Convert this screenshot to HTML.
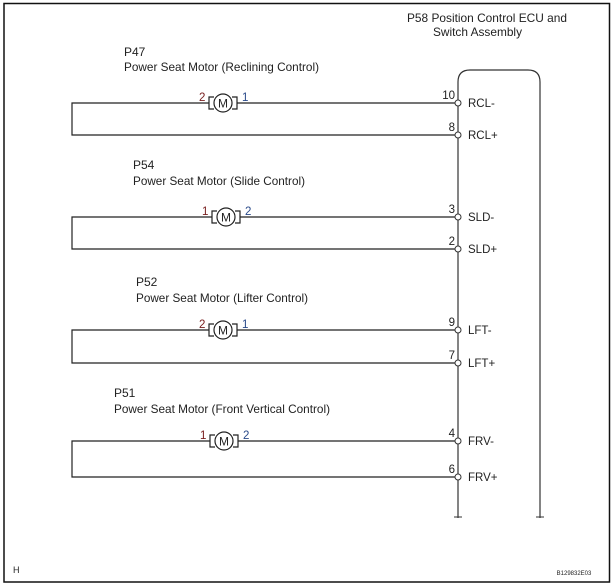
<!DOCTYPE html>
<html><head><meta charset="utf-8"><style>
html,body{margin:0;padding:0;background:#fff}
svg{display:block}
text{font-family:"Liberation Sans",Arial,sans-serif;fill:#222}
</style></head><body>
<svg width="613" height="585" viewBox="0 0 613 585" xmlns="http://www.w3.org/2000/svg">
<rect x="4" y="3.5" width="605.5" height="578.5" fill="none" stroke="#111" stroke-width="1.5"/>
<text x="407" y="22" font-size="12" textLength="160" lengthAdjust="spacingAndGlyphs">P58 Position Control ECU and</text>
<text x="433" y="36" font-size="12" textLength="89" lengthAdjust="spacingAndGlyphs">Switch Assembly</text>
<path d="M458 518 V82 Q458 70 470 70 H528 Q540 70 540 82 V518" fill="none" stroke="#333" stroke-width="1.2"/>
<line x1="454" y1="517" x2="462" y2="517" stroke="#333"/>
<line x1="536" y1="517" x2="544" y2="517" stroke="#333"/>
<g stroke="#222" stroke-width="1.2" fill="none">
<path d="M455 103 H72 V135 H455"/>
<path d="M455 217 H72 V249 H455"/>
<path d="M455 330 H72 V363 H455"/>
<path d="M455 441 H72 V477 H455"/>
</g>
<g fill="#fff" stroke="#333" stroke-width="1">
<circle cx="458" cy="103" r="3"/><circle cx="458" cy="135" r="3"/>
<circle cx="458" cy="217" r="3"/><circle cx="458" cy="249" r="3"/>
<circle cx="458" cy="330" r="3"/><circle cx="458" cy="363" r="3"/>
<circle cx="458" cy="441" r="3"/><circle cx="458" cy="477" r="3"/>
</g>
<g font-size="11.5">
<text x="468" y="107">RCL-</text><text x="468" y="139">RCL+</text>
<text x="468" y="221">SLD-</text><text x="468" y="253">SLD+</text>
<text x="468" y="334">LFT-</text><text x="468" y="367">LFT+</text>
<text x="468" y="445">FRV-</text><text x="468" y="481">FRV+</text>
</g>
<g font-size="11.5" text-anchor="end">
<text x="455" y="99">10</text><text x="455" y="131">8</text>
<text x="455" y="213">3</text><text x="455" y="245">2</text>
<text x="455" y="326">9</text><text x="455" y="359">7</text>
<text x="455" y="437">4</text><text x="455" y="473">6</text>
</g>
<g font-size="12" lengthAdjust="spacingAndGlyphs">
<text x="124" y="56">P47</text><text x="124" y="71" textLength="195" lengthAdjust="spacingAndGlyphs">Power Seat Motor (Reclining Control)</text>
<text x="133" y="169">P54</text><text x="133" y="185" textLength="172" lengthAdjust="spacingAndGlyphs">Power Seat Motor (Slide Control)</text>
<text x="136" y="286">P52</text><text x="136" y="302" textLength="172" lengthAdjust="spacingAndGlyphs">Power Seat Motor (Lifter Control)</text>
<text x="114" y="397">P51</text><text x="114" y="413" textLength="216" lengthAdjust="spacingAndGlyphs">Power Seat Motor (Front Vertical Control)</text>
</g>
<g stroke="#222" stroke-width="1.2" fill="#fff">
<g transform="translate(223,103)"><path d="M-9 -6 H-14 V6 H-9 M9 -6 H14 V6 H9"/><circle r="9"/><text x="0" y="4.5" font-size="12" text-anchor="middle" stroke="none" fill="#222">M</text></g>
<g transform="translate(226,217)"><path d="M-9 -6 H-14 V6 H-9 M9 -6 H14 V6 H9"/><circle r="9"/><text x="0" y="4.5" font-size="12" text-anchor="middle" stroke="none" fill="#222">M</text></g>
<g transform="translate(223,330)"><path d="M-9 -6 H-14 V6 H-9 M9 -6 H14 V6 H9"/><circle r="9"/><text x="0" y="4.5" font-size="12" text-anchor="middle" stroke="none" fill="#222">M</text></g>
<g transform="translate(224,441)"><path d="M-9 -6 H-14 V6 H-9 M9 -6 H14 V6 H9"/><circle r="9"/><text x="0" y="4.5" font-size="12" text-anchor="middle" stroke="none" fill="#222">M</text></g>
</g>
<g font-size="11.5">
<text x="199" y="101" style="fill:#7a2020">2</text><text x="242" y="101" style="fill:#2a4a8a">1</text>
<text x="202" y="215" style="fill:#7a2020">1</text><text x="245" y="215" style="fill:#2a4a8a">2</text>
<text x="199" y="328" style="fill:#7a2020">2</text><text x="242" y="328" style="fill:#2a4a8a">1</text>
<text x="200" y="439" style="fill:#7a2020">1</text><text x="243" y="439" style="fill:#2a4a8a">2</text>
</g>
<text x="13" y="573" font-size="9">H</text>
<text x="574" y="575" font-size="6" text-anchor="middle">B129832E03</text>
</svg>
</body></html>
